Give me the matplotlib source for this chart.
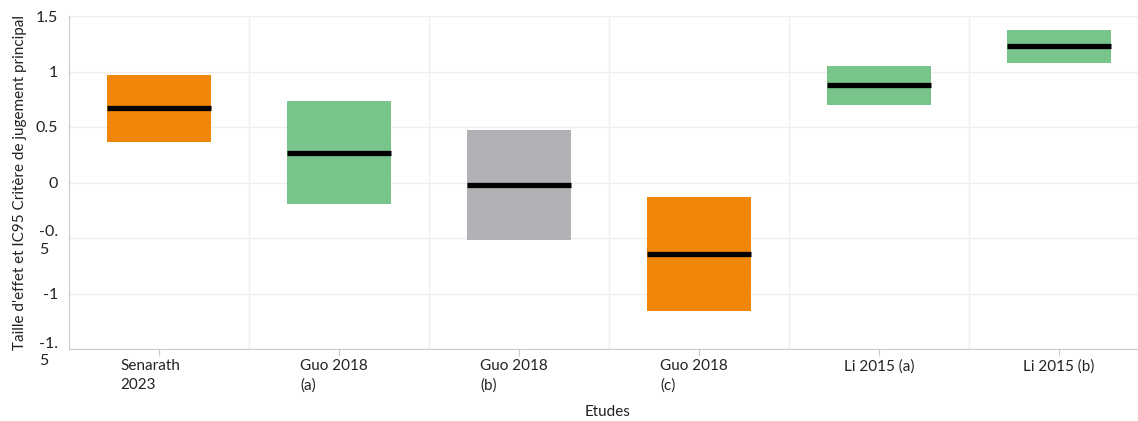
import matplotlib
matplotlib.use("Agg")
import matplotlib.pyplot as plt
import matplotlib.transforms as mtransforms
import numpy as np

plt.rcParams['font.family'] = ['Lato', 'DejaVu Sans']

studies = ["Senarath\n2023", "Guo 2018\n(a)", "Guo 2018\n(b)", "Guo 2018\n(c)", "Li 2015 (a)", "Li 2015 (b)"]
effect = [0.67, 0.265, -0.02, -0.645, 0.88, 1.23]
ci_low = [0.365, -0.19, -0.52, -1.16, 0.70, 1.08]
ci_high = [0.97, 0.73, 0.47, -0.13, 1.05, 1.37]
colors = ["#F0870A", "#78C48A", "#B1B2B6", "#F0870A", "#78C48A", "#78C48A"]
ytick_vals = [-1.5, -1, -0.5, 0, 0.5, 1, 1.5]
ytick_labels = ["-1.\n5", "-1", "-0.\n5", "0", "0.5", "1", "1.5"]

fig = plt.figure(figsize=(11.38, 4.21), dpi=100)
ax = fig.add_axes([69/1138, 1-349/421, 1080/1138, 333/421])

x = np.arange(len(studies))
width = 0.58
ax.bar(x, np.array(ci_high) - np.array(ci_low), bottom=ci_low, width=width,
       color=colors, zorder=3, linewidth=0)
ax.hlines(effect, x - width/2, x + width/2, colors="black", linewidth=3.8, zorder=4)

ax.set_xlim(-0.5, len(studies) - 0.5)
ax.set_ylim(-1.5, 1.5)
ax.set_yticks(ytick_vals)
ax.set_yticklabels(ytick_labels, fontsize=11.5)
for t in ax.get_yticklabels():
    t.set_multialignment('left')
    t.set_linespacing(1.3)

ax.set_xticks(x)
ax.set_xticklabels([""] * len(studies))
trans = mtransforms.blended_transform_factory(ax.transData, ax.transAxes)
for xi, lab in zip(x, studies):
    if "\n" in lab:
        off = mtransforms.ScaledTranslation(-39/100, -10/100, fig.dpi_scale_trans)
        ax.text(xi, 0, lab, transform=trans + off, ha='left', va='top', fontsize=11,
                color='#222222', linespacing=1.45, multialignment='left')
    else:
        off = mtransforms.ScaledTranslation(0, -10/100, fig.dpi_scale_trans)
        ax.text(xi, 0, lab, transform=trans + off, ha='center', va='top', fontsize=11,
                color='#222222')

ax.set_xticks(np.arange(-0.5, len(studies), 1), minor=True)
ax.grid(True, axis='y', which='major', color='#eeeeee', linewidth=1, zorder=0)
ax.grid(True, axis='x', which='minor', color='#eeeeee', linewidth=1, zorder=0)
ax.grid(False, axis='x', which='major')
ax.tick_params(axis='x', which='minor', length=0)
ax.tick_params(axis='x', which='major', length=5, color='#cccccc')
ax.tick_params(axis='y', length=0, pad=8, labelcolor='#222222')

for s in ['top', 'right']:
    ax.spines[s].set_visible(False)
ax.spines['left'].set_color('#cccccc')
ax.spines['bottom'].set_color('#cccccc')

ax.set_ylabel("Taille d'effet et IC95 Critère de jugement principal", fontsize=11, color='#222222', labelpad=6)
ax.set_xlabel("Etudes", fontsize=11, color='#222222')
ax.xaxis.set_label_coords((608-69)/1080, -(405-349)/333)

fig.savefig("out.png", dpi=100)
